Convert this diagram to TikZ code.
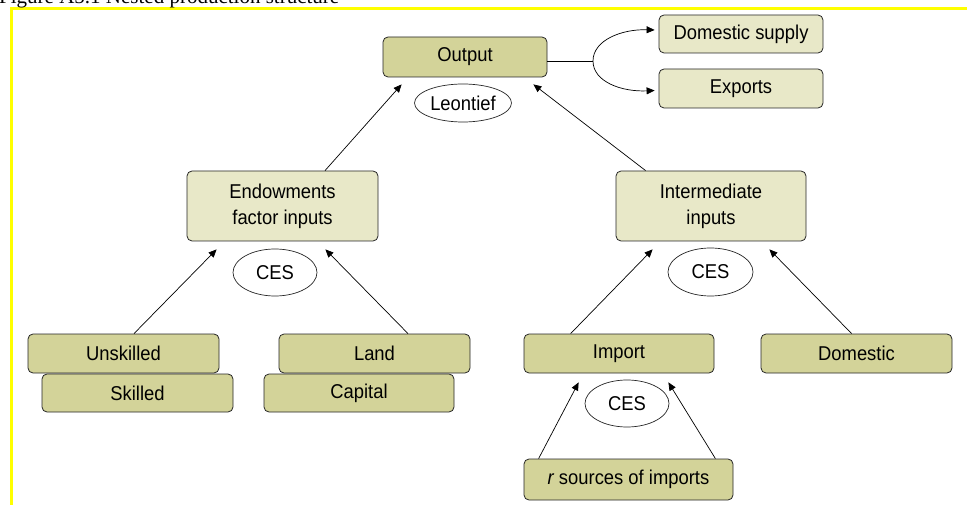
\documentclass[tikz,border=0pt]{standalone}
\usepackage{fontspec}
\usepackage{tikz}
\usetikzlibrary{arrows.meta,calc,shapes.geometric}
\setmainfont{Liberation Sans}
\newfontfamily\boxfont{Liberation Sans}[FakeStretch=0.92]
\newfontfamily\titlefont{Liberation Serif}
\definecolor{olivedark}{RGB}{211,211,153}
\definecolor{olivelight}{RGB}{232,232,200}
\definecolor{frameyellow}{RGB}{255,255,0}

\begin{document}
\begin{tikzpicture}[x=1pt, y=-1pt,
  every node/.style={font=\boxfont\fontsize{20}{26}\selectfont, inner sep=0pt},
  darkbox/.style={draw=black!85, line width=0.8pt, rounded corners=5pt, fill=olivedark},
  lightbox/.style={draw=black!85, line width=0.8pt, rounded corners=5pt, fill=olivelight, align=center},
  fnoval/.style={draw=black!85, line width=0.7pt, ellipse, fill=white},
  link/.style={-{Triangle[length=8pt,width=7pt]}, line width=0.7pt, black}]
\useasboundingbox (0,0) rectangle (967,505);
% frame and caption
\draw[frameyellow, line width=3pt] (11,506) -- (11,9) -- (968,9);
\node[anchor=base west, font=\titlefont\fontsize{21}{24}\selectfont] (title) at (-1,4) {Figure A5.1 Nested production structure};
% top level
\node[darkbox, minimum width=164pt, minimum height=40pt] (out) at (465,57) {Output};
\node[lightbox, minimum width=164pt, minimum height=38pt] (dsup) at (741,34) {Domestic supply};
\node[lightbox, minimum width=164pt, minimum height=39pt] (exp) at (741,88.5) {Exports};
\node[fnoval, minimum width=97pt, minimum height=38pt] (leon) at (463,103) {Leontief};
% second level
\node[lightbox, minimum width=191pt, minimum height=70pt] (endow) at (282.5,206) {Endowments\\factor inputs};
\node[lightbox, minimum width=190pt, minimum height=70pt] (inter) at (711,206) {Intermediate\\inputs};
\node[fnoval, minimum width=84pt, minimum height=47pt] (cesa) at (275,272.5) {CES};
\node[fnoval, minimum width=85pt, minimum height=48pt] (cesb) at (710.5,272) {CES};
% factors
\node[darkbox, minimum width=191pt, minimum height=39pt] (unsk) at (123.5,353.5) {Unskilled};
\node[darkbox, minimum width=191pt, minimum height=38pt] (skill) at (137.5,393) {Skilled};
\node[darkbox, minimum width=191pt, minimum height=39pt] (land) at (374.5,353.5) {Land};
\node[darkbox, minimum width=190pt, minimum height=38pt] (cap) at (359,393) {Capital};
% intermediates
\node[darkbox, minimum width=190pt, minimum height=39pt] (imp) at (619,353.5) {Import};
\node[darkbox, minimum width=191pt, minimum height=39pt] (dom) at (856.5,353.5) {Domestic};
\node[fnoval, minimum width=84pt, minimum height=47pt] (cesc) at (627,403.5) {CES};
\node[darkbox, minimum width=209pt, minimum height=41pt] (src) at (628.5,479.5) {{\itshape r} sources of imports};
% connectors
\coordinate (split) at (593,61);
\draw[line width=0.7pt] ($(out.east)+(0,4)$) -- (split);
\draw[link] (split) .. controls (593,40) and (622,29) .. ($(dsup.west)+(-4,-4)$);
\draw[link] (split) .. controls (593,82) and (622,92) .. ($(exp.west)+(-4,2)$);
\draw[link] ($(endow.north)+(42.5,0)$) -- ($(out.south west)+(19,7)$);
\draw[link] ($(inter.north west)+(30,0)$) -- ($(out.south east)+(-14,7)$);
\draw[link] ($(unsk.north)+(10.5,0)$) -- ($(endow.south west)+(30,8)$);
\draw[link] ($(land.north)+(33.5,0)$) -- ($(endow.south east)+(-53,8)$);
\draw[link] ($(imp.north west)+(47,0)$) -- ($(inter.south west)+(37,8)$);
\draw[link] ($(dom.north west)+(91,0)$) -- ($(inter.south east)+(-37,8)$);
\draw[link] ($(src.north west)+(15,0)$) -- ($(imp.south west)+(55,9)$);
\draw[link] ($(src.north east)+(-18,0)$) -- ($(imp.south east)+(-46,9)$);
\end{tikzpicture}
\end{document}
